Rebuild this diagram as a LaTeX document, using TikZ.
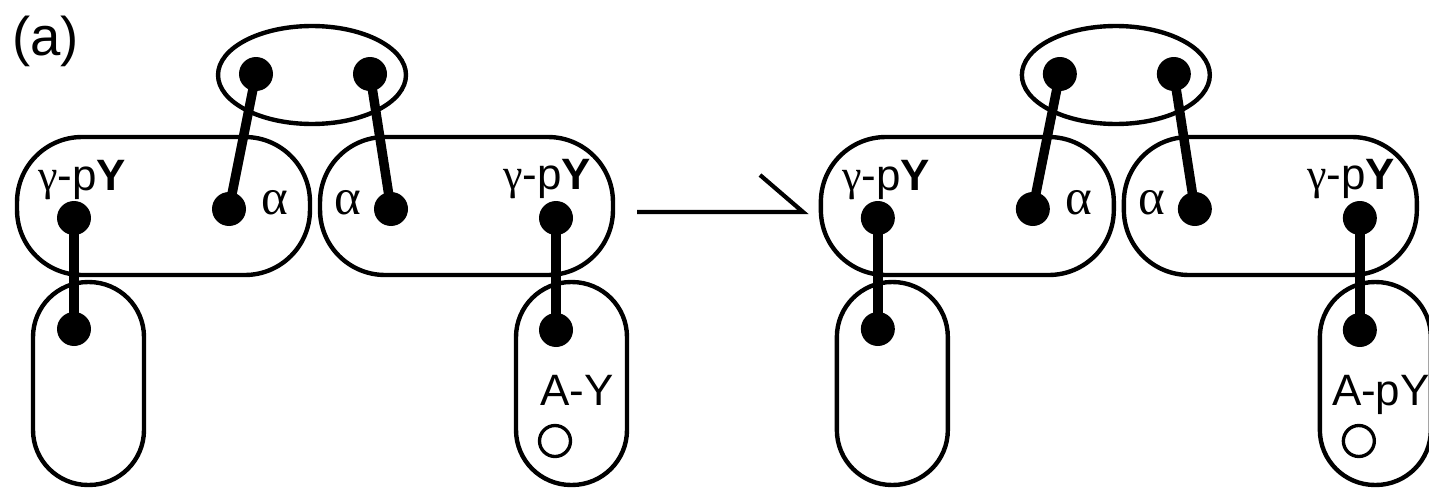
\documentclass[tikz,border=0pt]{standalone}
\usepackage{fontspec}
\setmainfont{Liberation Sans}
\newfontfamily\grk{Liberation Serif}
\usetikzlibrary{positioning, shapes.geometric}

\begin{document}
\begin{tikzpicture}[
    x=0.02cm, y=-0.02cm,
    % 定義大圓角方框樣式
    bigbox/.style={
        draw=black,
        line width=2.5pt,
        rounded corners=1.3cm,
        inner sep=0pt,
        minimum width=5.86cm,
        minimum height=2.76cm
    },
    % 定義直立方框樣式
    sidebox/.style={
        draw=black,
        line width=2.5pt,
        rounded corners=1.1cm,
        inner sep=0pt,
        minimum width=2.22cm,
        minimum height=4.06cm
    },
    % 定義橢圓樣式
    hub/.style={
        draw=black,
        ellipse,
        line width=2.5pt,
        inner sep=0pt,
        minimum width=3.76cm,
        minimum height=1.96cm
    },
    % 定義黑點與空心圓
    dot/.style={circle, fill=black, inner sep=0pt, minimum size=0.68cm},
    ring/.style={circle, draw=black, line width=1.9pt, inner sep=0pt, minimum size=0.62cm},
    % 定義連桿與文字樣式
    stick/.style={line width=5.4pt},
    lab/.style={font=\fontsize{25}{30}\selectfont, inner sep=0pt},
    greek/.style={font=\fontsize{29}{34}\selectfont\grk, inner sep=0pt},
    arrowline/.style={line width=2.4pt}
]
    \useasboundingbox (0,0) rectangle (1429,490);

    % --- 1. 標題 ---
    \node[font=\fontsize{31}{36}\selectfont, anchor=base west, inner sep=0pt] (tag) at (12,55) {(a)};

    % --- 2. 左圖 ---
    \node[hub] (hubL) at (312,75) {};
    \node[dot] (h1L) at (256,74) {};
    \node[dot] (h2L) at (370,74) {};

    \node[bigbox] (b1L) at (163.5,206) {};
    \node[bigbox] (b2L) at (466.5,206) {};
    \node[sidebox] (s1L) at (88.5,383.5) {};
    \node[sidebox] (s2L) at (571.5,383.5) {};

    \node[dot] (g1L) at (74,218) {};
    \node[dot] (a1L) at (229,209) {};
    \node[dot] (a2L) at (391,209) {};
    \node[dot] (g2L) at (556,218) {};
    \node[dot] (p1L) at (74,329) {};
    \node[dot] (p2L) at (556,330) {};

    \node[lab, anchor=base west] (tg1L) at (38,190) {{\grk γ}-p\textbf{Y}};
    \node[greek, anchor=base west] (ta1L) at (261,214) {α};
    \node[greek, anchor=base west] (ta2L) at (334,214) {α};
    \node[lab, anchor=base west] (tg2L) at (503,189) {{\grk γ}-p\textbf{Y}};
    \node[lab, anchor=base] (tyL) at (577,405) {A-Y};
    \node[ring] (oL) at (555,441) {};

    \draw[stick] (h1L.center) -- (a1L.center);
    \draw[stick] (h2L.center) -- (a2L.center);
    \draw[stick] (g1L.center) -- (p1L.center);
    \draw[stick] (g2L.center) -- (p2L.center);

    % --- 3. 箭頭 ---
    \coordinate (arrS) at (637,212);
    \coordinate (arrE) at (803,212);
    \draw[arrowline] (arrS) -- (arrE) -- ++(-43,-37);

    % --- 4. 右圖 ---
    \begin{scope}[xshift=16.08cm]
    \node[hub] (hubR) at (312,75) {};
    \node[dot] (h1R) at (256,74) {};
    \node[dot] (h2R) at (370,74) {};

    \node[bigbox] (b1R) at (163.5,206) {};
    \node[bigbox] (b2R) at (466.5,206) {};
    \node[sidebox] (s1R) at (88.5,383.5) {};
    \node[sidebox] (s2R) at (571.5,383.5) {};

    \node[dot] (g1R) at (74,218) {};
    \node[dot] (a1R) at (229,209) {};
    \node[dot] (a2R) at (391,209) {};
    \node[dot] (g2R) at (556,218) {};
    \node[dot] (p1R) at (74,329) {};
    \node[dot] (p2R) at (556,330) {};

    \node[lab, anchor=base west] (tg1R) at (38,190) {{\grk γ}-p\textbf{Y}};
    \node[greek, anchor=base west] (ta1R) at (261,214) {α};
    \node[greek, anchor=base west] (ta2R) at (334,214) {α};
    \node[lab, anchor=base west] (tg2R) at (503,189) {{\grk γ}-p\textbf{Y}};
    \node[lab, anchor=base] (tyR) at (577,405) {A-pY};
    \node[ring] (oR) at (555,441) {};

    \draw[stick] (h1R.center) -- (a1R.center);
    \draw[stick] (h2R.center) -- (a2R.center);
    \draw[stick] (g1R.center) -- (p1R.center);
    \draw[stick] (g2R.center) -- (p2R.center);
    \end{scope}

\end{tikzpicture}
\end{document}
